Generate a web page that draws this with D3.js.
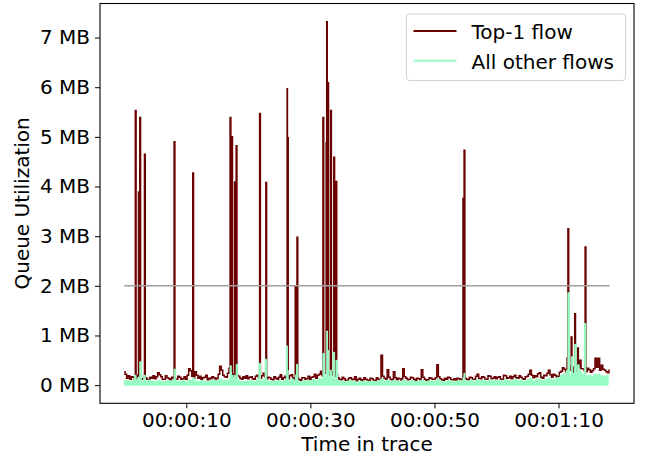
<!DOCTYPE html>
<html>
<head>
<meta charset="utf-8">
<script src="https://cdn.jsdelivr.net/npm/d3@7"></script>
<style>
  html, body { margin: 0; padding: 0; background: #fff; }
  svg { display: block; font-family: "DejaVu Sans", sans-serif; }
</style>
</head>
<body>
<div id="chart"></div>
<script>
// Queue utilization over a trace: top-1 flow vs. all other flows (MB)
// Regular samples (top-1 every 0.25 s, others every 0.5 s); bursts listed separately.
const topStep = 0.25;
const otherStep = 0.5;

const topBase = [
  0.27, 0.22, 0.14, 0.19, 0.12, 0.17, 0.16, 0.11, 0.13, 0.20, 0.18, 0.13, 0.12, 0.18, 0.15, 0.12, 0.11, 0.16, 0.14, 0.19,
  0.13, 0.17, 0.25, 0.21, 0.17, 0.12, 0.12, 0.19, 0.15, 0.13, 0.11, 0.16, 0.14, 0.12, 0.12, 0.18, 0.16, 0.12, 0.13, 0.17,
  0.12, 0.20, 0.33, 0.29, 0.18, 0.14, 0.27, 0.20, 0.14, 0.18, 0.12, 0.15, 0.16, 0.20, 0.11, 0.14, 0.13, 0.17, 0.15, 0.12,
  0.14, 0.22, 0.38, 0.30, 0.20, 0.17, 0.16, 0.24, 0.34, 0.28, 0.22, 0.17, 0.15, 0.20, 0.18, 0.14, 0.12, 0.17, 0.14, 0.19,
  0.13, 0.16, 0.17, 0.13, 0.12, 0.18, 0.20, 0.15, 0.14, 0.19, 0.24, 0.17, 0.13, 0.16, 0.15, 0.12, 0.11, 0.17, 0.14, 0.12,
  0.16, 0.21, 0.12, 0.15, 0.18, 0.13, 0.13, 0.19, 0.21, 0.15, 0.12, 0.17, 0.14, 0.11, 0.10, 0.15, 0.15, 0.12, 0.13, 0.18,
  0.12, 0.16, 0.17, 0.22, 0.14, 0.20, 0.22, 0.28, 0.19, 0.24, 0.25, 0.20, 0.20, 0.26, 0.27, 0.20, 0.18, 0.22, 0.15, 0.12,
  0.11, 0.16, 0.13, 0.10, 0.10, 0.14, 0.15, 0.11, 0.12, 0.17, 0.09, 0.12, 0.14, 0.10, 0.11, 0.15, 0.12, 0.10, 0.10, 0.14,
  0.13, 0.10, 0.10, 0.15, 0.12, 0.11, 0.60, 0.18, 0.14, 0.12, 0.31, 0.16, 0.12, 0.11, 0.27, 0.15, 0.11, 0.14, 0.13, 0.10,
  0.33, 0.17, 0.14, 0.11, 0.12, 0.16, 0.15, 0.12, 0.10, 0.14, 0.13, 0.11, 0.31, 0.16, 0.12, 0.10, 0.11, 0.15, 0.14, 0.12,
  0.12, 0.15, 0.41, 0.17, 0.13, 0.11, 0.10, 0.14, 0.12, 0.16, 0.15, 0.11, 0.11, 0.13, 0.10, 0.14, 0.13, 0.11, 0.12, 0.15,
  0.14, 0.12, 0.11, 0.16, 0.15, 0.12, 0.12, 0.18, 0.22, 0.14, 0.13, 0.17, 0.16, 0.12, 0.12, 0.19, 0.18, 0.13, 0.14, 0.17,
  0.13, 0.16, 0.17, 0.12, 0.12, 0.20, 0.19, 0.14, 0.15, 0.18, 0.13, 0.17, 0.20, 0.15, 0.14, 0.19, 0.16, 0.13, 0.12, 0.17,
  0.18, 0.22, 0.30, 0.20, 0.15, 0.19, 0.17, 0.23, 0.25, 0.16, 0.14, 0.20, 0.19, 0.24, 0.30, 0.21, 0.16, 0.22, 0.20, 0.17,
  0.18, 0.26, 0.28, 0.35, 0.32, 0.27, 0.54, 0.38, 0.30, 0.26, 0.36, 0.31, 0.28, 0.35, 0.50, 0.33, 0.33, 0.29, 0.27, 0.34,
  0.31, 0.26, 0.29, 0.33, 0.54, 0.36, 0.54, 0.30, 0.40, 0.32, 0.30, 0.27, 0.25, 0.30
];

const otherBase = [
  0.08, 0.09, 0.07, 0.10, 0.08, 0.09, 0.07, 0.08, 0.10, 0.08,
  0.07, 0.09, 0.08, 0.07, 0.09, 0.08, 0.10, 0.07, 0.08, 0.09,
  0.08, 0.10, 0.09, 0.08, 0.07, 0.09, 0.08, 0.07, 0.09, 0.10,
  0.09, 0.12, 0.10, 0.09, 0.11, 0.10, 0.08, 0.09, 0.07, 0.08,
  0.08, 0.09, 0.07, 0.10, 0.08, 0.11, 0.09, 0.08, 0.07, 0.08,
  0.09, 0.08, 0.10, 0.08, 0.12, 0.09, 0.08, 0.07, 0.09, 0.10,
  0.09, 0.11, 0.10, 0.13, 0.12, 0.15, 0.13, 0.14, 0.11, 0.09,
  0.08, 0.07, 0.08, 0.09, 0.07, 0.06, 0.08, 0.07, 0.08, 0.07,
  0.08, 0.07, 0.08, 0.12, 0.08, 0.10, 0.07, 0.09, 0.08, 0.07,
  0.10, 0.08, 0.07, 0.09, 0.07, 0.08, 0.10, 0.07, 0.08, 0.09,
  0.08, 0.11, 0.08, 0.07, 0.08, 0.09, 0.07, 0.08, 0.09, 0.08,
  0.09, 0.08, 0.10, 0.08, 0.11, 0.09, 0.10, 0.08, 0.10, 0.09,
  0.09, 0.10, 0.08, 0.11, 0.09, 0.08, 0.12, 0.09, 0.10, 0.08,
  0.10, 0.13, 0.09, 0.11, 0.12, 0.09, 0.11, 0.14, 0.10, 0.12,
  0.15, 0.20, 0.22, 0.30, 0.20, 0.24, 0.21, 0.28, 0.22, 0.19,
  0.20, 0.18, 0.22, 0.21, 0.19, 0.18, 0.20
];

// burst instants (s) with queue occupancy for both series (MB)
const spikeTimes = [1.81, 2.34, 2.50, 3.26, 8.07, 11.08, 17.11, 17.38, 17.82, 18.07,
  21.88, 22.89, 26.25, 26.35, 27.61, 27.93, 32.04, 32.58, 32.68, 32.84,
  33.27, 33.80, 34.24, 54.70, 54.80, 71.52, 72.07, 72.71, 73.13, 74.32];
const spikeTop = [5.53, 3.89, 5.39, 4.65, 4.90, 4.27, 5.39, 5.00, 4.09, 4.82,
  5.47, 4.08, 5.97, 4.98, 2.00, 2.98, 5.39, 4.88, 7.32, 6.09,
  5.53, 4.59, 4.10, 3.76, 4.73, 3.15, 0.97, 1.44, 0.75, 2.78];
const spikeOther = [0.20, 0.15, 0.47, 0.20, 0.32, 0.15, 0.39, 0.20, 0.20, 0.42,
  0.44, 0.52, 0.79, 0.30, 0.20, 0.42, 0.64, 0.30, 1.09, 0.70,
  0.30, 0.66, 0.50, 0.15, 0.24, 1.86, 0.57, 0.82, 0.41, 1.24];

const thresholdMB = 2;
const xTicks = [10, 30, 50, 70];
const yTicks = [0, 1, 2, 3, 4, 5, 6, 7];
const seriesNames = ['Top-1 flow', 'All other flows'];
const colors = { top: '#6b0000', other: '#98fcc4', threshold: '#a0a0a0' };

// regular samples merged with the burst samples, sorted by time
const merge = (base, step, spikes) => base.map((v, i) => ({ t: i * step, v }))
  .concat(spikeTimes.map((t, i) => ({ t, v: spikes[i] })))
  .sort((a, b) => a.t - b.t);
const topPts = merge(topBase, topStep, spikeTop);
const otherPts = merge(otherBase, otherStep, spikeOther);

const W = 651, H = 460;
const margin = { top: 3.5, right: 17, bottom: 56.7, left: 100 };
const iw = W - margin.left - margin.right;
const ih = H - margin.top - margin.bottom;
const FONT = '20px';

const svg = d3.select('#chart').append('svg')
  .attr('width', W).attr('height', H);

const g = svg.append('g').attr('transform', `translate(${margin.left},${margin.top})`);

// matplotlib-style 5% auto margins
const pad = (ext) => { const d = (ext[1] - ext[0]) * 0.05; return [ext[0] - d, ext[1] + d]; };
const all = topPts.concat(otherPts);
const xExt = d3.extent(all, d => d.t);
const yExt = [0, d3.max(all, d => d.v)];

const x = d3.scaleLinear().domain(pad(xExt)).range([0, iw]);
const y = d3.scaleLinear().domain(pad(yExt)).range([ih, 0]);

const fmtTime = s => {
  const hh = Math.floor(s / 3600), mm = Math.floor((s % 3600) / 60), ss = Math.round(s % 60);
  return [hh, mm, ss].map(v => String(v).padStart(2, '0')).join(':');
};

// top-1 flow line (stepped, so bursts stand up as narrow bars)
g.append('path')
  .datum(topPts)
  .attr('fill', 'none')
  .attr('stroke', colors.top)
  .attr('stroke-width', 1.5)
  .attr('d', d3.line().curve(d3.curveStep).x(d => x(d.t)).y(d => y(d.v)));

// other flows, drawn on top as filled trace
g.append('path')
  .datum(otherPts)
  .attr('fill', colors.other)
  .attr('stroke', colors.other)
  .attr('stroke-width', 1)
  .attr('d', d3.area().curve(d3.curveStep).x(d => x(d.t)).y0(y(0)).y1(d => y(d.v)));

// 2 MB reference line across the trace
g.append('line')
  .attr('x1', x(xExt[0])).attr('x2', x(xExt[1]))
  .attr('y1', y(thresholdMB)).attr('y2', y(thresholdMB))
  .attr('stroke', colors.threshold)
  .attr('stroke-width', 1.5);

// axes
const xAxis = g.append('g')
  .attr('transform', `translate(0,${ih})`)
  .call(d3.axisBottom(x).tickValues(xTicks).tickFormat(fmtTime).tickSize(5).tickPadding(5));
const yAxis = g.append('g')
  .call(d3.axisLeft(y).tickValues(yTicks).tickFormat(d => `${d} MB`).tickSize(5).tickPadding(5));

[xAxis, yAxis].forEach(a => {
  a.select('.domain').remove();
  a.selectAll('line').attr('stroke', '#000').attr('stroke-width', 1);
  a.selectAll('text').attr('fill', '#000').style('font-size', FONT)
    .style('font-family', '"DejaVu Sans", sans-serif');
});

// frame
g.append('rect')
  .attr('width', iw).attr('height', ih)
  .attr('fill', 'none').attr('stroke', '#000').attr('stroke-width', 1.1);

// axis titles
svg.append('text')
  .attr('x', margin.left + iw / 2).attr('y', 451)
  .attr('text-anchor', 'middle')
  .style('font-size', FONT)
  .text('Time in trace');

svg.append('text')
  .attr('transform', `translate(29,${margin.top + ih / 2}) rotate(-90)`)
  .attr('text-anchor', 'middle')
  .style('font-size', FONT)
  .text('Queue Utilization');

// legend
const lg = svg.append('g').attr('transform', 'translate(406.5,14)');
lg.append('rect')
  .attr('width', 219).attr('height', 66.5).attr('rx', 3)
  .attr('fill', '#fff').attr('fill-opacity', 0.8)
  .attr('stroke', '#d0d0d0').attr('stroke-width', 1);

seriesNames.forEach((name, i) => {
  const ly = 17 + i * 29.7;
  lg.append('line')
    .attr('x1', 7).attr('x2', 50).attr('y1', ly).attr('y2', ly)
    .attr('stroke', i === 0 ? colors.top : colors.other)
    .attr('stroke-width', 2);
  lg.append('text')
    .attr('x', 65).attr('y', ly + 8.3)
    .style('font-size', FONT)
    .text(name);
});
</script>
</body>
</html>
